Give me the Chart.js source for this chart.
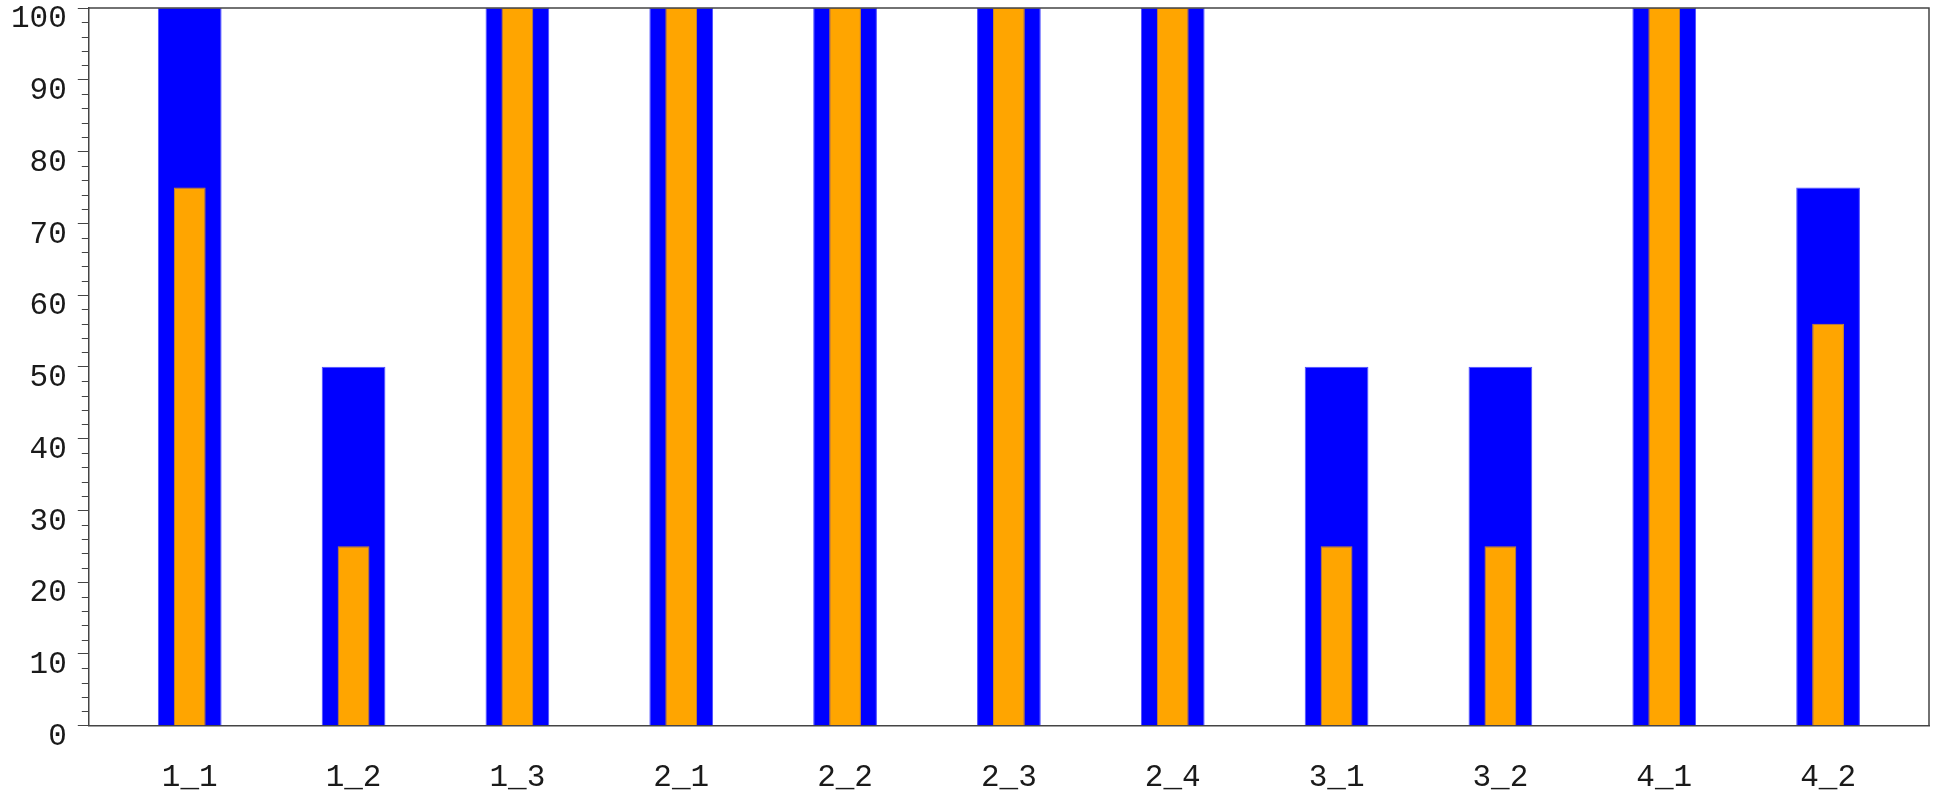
<!DOCTYPE html>
<html>
<head>
<meta charset="utf-8">
<script src="https://cdn.jsdelivr.net/npm/chart.js@4"></script>
<style>
  html, body { margin: 0; padding: 0; background: #fff; }
  #chart { display: block; }
</style>
</head>
<body>
<canvas id="chart" width="1934" height="795"></canvas>
<script>
// data
const categories = ['1_1', '1_2', '1_3', '2_1', '2_2', '2_3', '2_4', '3_1', '3_2', '4_1', '4_2'];
const blueValues = [100, 50, 100, 100, 100, 100, 100, 50, 50, 100, 75];
const orangeValues = [75, 25, 100, 100, 100, 100, 100, 25, 25, 100, 56];
const yTicks = [0, 10, 20, 30, 40, 50, 60, 70, 80, 90, 100];

const axisColor = '#444';
const labelFont = { family: '"Liberation Mono", "DejaVu Sans Mono", monospace', size: 31 };

// frame on top/right plus the small ticks between the labelled ones
const framePlugin = {
  id: 'frame',
  afterDatasetsDraw(chart) {
    const { ctx, chartArea: a, scales } = chart;
    ctx.save();
    ctx.strokeStyle = axisColor;
    ctx.lineWidth = 1.5;
    ctx.beginPath();
    ctx.moveTo(a.left, a.top);
    ctx.lineTo(a.right, a.top);
    ctx.lineTo(a.right, a.bottom);
    ctx.stroke();

    ctx.lineWidth = 1;
    ctx.beginPath();
    for (let v = yTicks[0]; v <= yTicks[yTicks.length - 1]; v += 2) {
      if (v % 10 === 0) continue;
      const y = Math.round(scales.y.getPixelForValue(v)) + 0.5;
      ctx.moveTo(a.left - 7, y);
      ctx.lineTo(a.left, y);
    }
    ctx.stroke();
    ctx.restore();
  }
};

new Chart(document.getElementById('chart'), {
  type: 'bar',
  data: {
    datasets: [
      {
        label: 'inner',
        data: categories.map((c, i) => ({ x: i, y: orangeValues[i] })),
        backgroundColor: '#ffa500',
        borderColor: '#c98a2a',
        borderWidth: 1,
        grouped: false,
        categoryPercentage: 1,
        barPercentage: 0.194
      },
      {
        label: 'outer',
        data: categories.map((c, i) => ({ x: i, y: blueValues[i] })),
        backgroundColor: '#0000ff',
        borderColor: '#4d4dff',
        borderWidth: 1,
        grouped: false,
        categoryPercentage: 1,
        barPercentage: 0.389
      }
    ]
  },
  options: {
    responsive: false,
    animation: false,
    devicePixelRatio: 1,
    layout: { padding: { top: 8, right: 5, left: 0, bottom: 0 } },
    plugins: {
      legend: { display: false },
      tooltip: { enabled: false }
    },
    scales: {
      x: {
        type: 'linear',
        min: -0.616,
        max: 10.616,
        offset: false,
        afterBuildTicks: scale => {
          scale.ticks = categories.map((c, i) => ({ value: i }));
        },
        afterFit: scale => { scale.height = 69.3; },
        ticks: {
          autoSkip: false,
          maxRotation: 0,
          padding: 33,
          color: '#1a1a1a',
          font: labelFont,
          callback: v => categories[v]
        },
        grid: { display: false, drawTicks: false },
        border: { display: true, color: axisColor, width: 1.5 }
      },
      y: {
        min: 0,
        max: 100,
        afterBuildTicks: scale => {
          scale.ticks = yTicks.map(v => ({ value: v }));
        },
        afterFit: scale => { scale.paddingTop = 0; scale.paddingBottom = 0; },
        ticks: {
          autoSkip: false,
          padding: 11,
          labelOffset: 11,
          color: '#1a1a1a',
          font: labelFont
        },
        grid: {
          drawOnChartArea: false,
          drawTicks: true,
          tickLength: 11,
          tickColor: axisColor
        },
        border: { display: true, color: axisColor, width: 1.5 }
      }
    }
  },
  plugins: [framePlugin]
});
</script>
</body>
</html>
